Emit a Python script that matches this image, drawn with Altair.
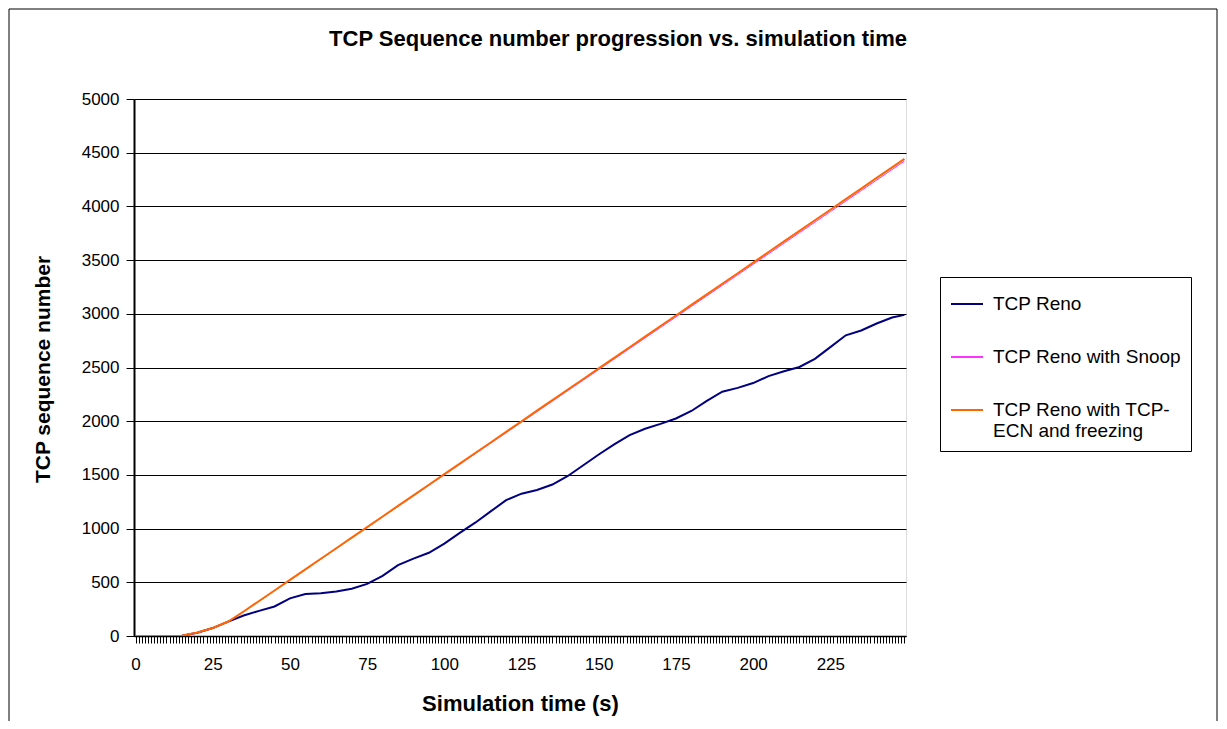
import altair as alt
import pandas as pd

# ---- data ----
time_s = [0, 5, 10, 15, 20, 25, 30, 35, 40, 45, 50, 55, 60, 65, 70, 75, 80, 85, 90, 95,
          100, 105, 110, 115, 120, 125, 130, 135, 140, 145, 150, 155, 160, 165, 170, 175,
          180, 185, 190, 195, 200, 205, 210, 215, 220, 225, 230, 235, 240, 245, 249]

tcp_reno = [0, 0, 0, 2, 30, 74, 134, 191, 234, 275, 350, 390, 398, 415, 440, 485, 560, 660,
            720, 775, 860, 960, 1055, 1160, 1265, 1325, 1360, 1410, 1490, 1590, 1690, 1785,
            1870, 1930, 1975, 2025, 2095, 2190, 2275, 2310, 2355, 2420, 2465, 2505, 2580,
            2690, 2800, 2845, 2910, 2965, 2990]

tcp_snoop = [0, 0, 0, 2, 28, 70, 130, 226, 324, 422, 520, 617, 716, 814, 913, 1011, 1109,
             1207, 1305, 1403, 1501, 1599, 1697, 1795, 1893, 1991, 2089, 2187, 2285, 2383,
             2481, 2579, 2677, 2775, 2873, 2971, 3069, 3167, 3265, 3363, 3461, 3559, 3657,
             3755, 3853, 3951, 4049, 4147, 4245, 4343, 4421]

tcp_ecn = [0, 0, 0, 3, 32, 75, 135, 228, 326, 424, 522, 620, 719, 817, 916, 1014, 1113,
           1211, 1310, 1408, 1507, 1605, 1704, 1802, 1901, 1999, 2098, 2196, 2295, 2393,
           2492, 2590, 2689, 2787, 2886, 2984, 3083, 3181, 3280, 3378, 3477, 3575, 3674,
           3772, 3871, 3969, 4068, 4166, 4265, 4363, 4442]

series_names = ["TCP Reno", "TCP Reno with Snoop", "TCP Reno with TCP-ECN and freezing"]
series_colors = ["#000080", "#FF33FF", "#FF6600"]
series_widths = [2, 1, 2]

x_tick_values = list(range(0, 250))          # one tick per category (second)
y_tick_values = list(range(0, 5001, 500))

rows = []
for name, vals in zip(series_names, [tcp_reno, tcp_snoop, tcp_ecn]):
    for t, v in zip(time_s, vals):
        rows.append({"t": t, "seq": v, "series": name})
df = pd.DataFrame(rows)

FONT = "Liberation Sans"

x_enc = alt.X(
    "t:Q",
    scale=alt.Scale(domain=[-0.5, 249.5], nice=False, zero=False),
    axis=alt.Axis(
        values=x_tick_values,
        labelExpr="datum.value % 25 == 0 ? datum.label : ''",
        labelOverlap=False,
        labelFlush=False,
        grid=False,
        tickSize=7,
        tickColor="black",
        tickWidth=1,
        labelPadding=13,
        labelFont=FONT,
        labelFontSize=17,
        labelColor="black",
        domainColor="black",
        domainWidth=1.5,
        title="Simulation time (s)",
        titleFont=FONT,
        titleFontSize=22,
        titleFontWeight="bold",
        titleColor="black",
        titleX=386,
        titleY=67,
        titleBaseline="middle",
    ),
)

y_enc = alt.Y(
    "seq:Q",
    scale=alt.Scale(domain=[0, 5000], nice=False),
    axis=alt.Axis(
        values=y_tick_values,
        format="d",
        grid=True,
        gridColor="black",
        gridWidth=1,
        tickSize=8,
        tickColor="black",
        labelPadding=7,
        labelFont=FONT,
        labelFontSize=17,
        labelColor="black",
        domainColor="black",
        domainWidth=2,
        title="TCP sequence number",
        titleFont=FONT,
        titleFontSize=21,
        titleFontWeight="bold",
        titleColor="black",
        titleX=-91,
        titleY=270,
        titleBaseline="middle",
    ),
)

color_enc = alt.Color(
    "series:N",
    scale=alt.Scale(domain=series_names, range=series_colors),
    legend=alt.Legend(
        title=None,
        orient="none",
        legendX=806,
        legendY=178,
        symbolType="stroke",
        symbolSize=1024,
        symbolStrokeWidth=2,
        labelFont=FONT,
        labelFontSize=19,
        labelColor="black",
        labelLimit=400,
        labelOffset=9,
        rowPadding=26,
        padding=10,
        strokeColor="black",
        fillColor="white",
        labelExpr="datum.label == 'TCP Reno with TCP-ECN and freezing' ? ['TCP Reno with TCP-', 'ECN and freezing'] : datum.label",
    ),
)

frame = alt.Chart(pd.DataFrame({"a": [0]})).mark_rect(
    fill="transparent", stroke="black", strokeWidth=1
).encode(
    x=alt.value(-125), x2=alt.value(1083), y=alt.value(-90), y2=alt.value(700)
)

layers = [frame]
for name, w in zip(series_names, series_widths):
    layers.append(
        alt.Chart(df).transform_filter(alt.datum.series == name)
        .mark_line(clip=True, strokeWidth=w)
        .encode(x=x_enc, y=y_enc, color=color_enc)
    )

chart = alt.layer(*layers).properties(
    width=772,
    height=537,
    padding={"left": 126, "top": 91, "right": 313, "bottom": 85},
    autosize=alt.AutoSizeParams(type="none"),
    title=alt.TitleParams(
        "TCP Sequence number progression vs. simulation time",
        font=FONT,
        fontSize=22,
        fontWeight="bold",
        color="black",
        anchor="middle",
        dx=98,
        offset=-64,
        baseline="bottom",
    ),
).configure_view(
    stroke="black", strokeWidth=1.5, fill="white"
).configure(background="white")

chart.save("out.html", embed_options={"renderer": "svg", "actions": False})
